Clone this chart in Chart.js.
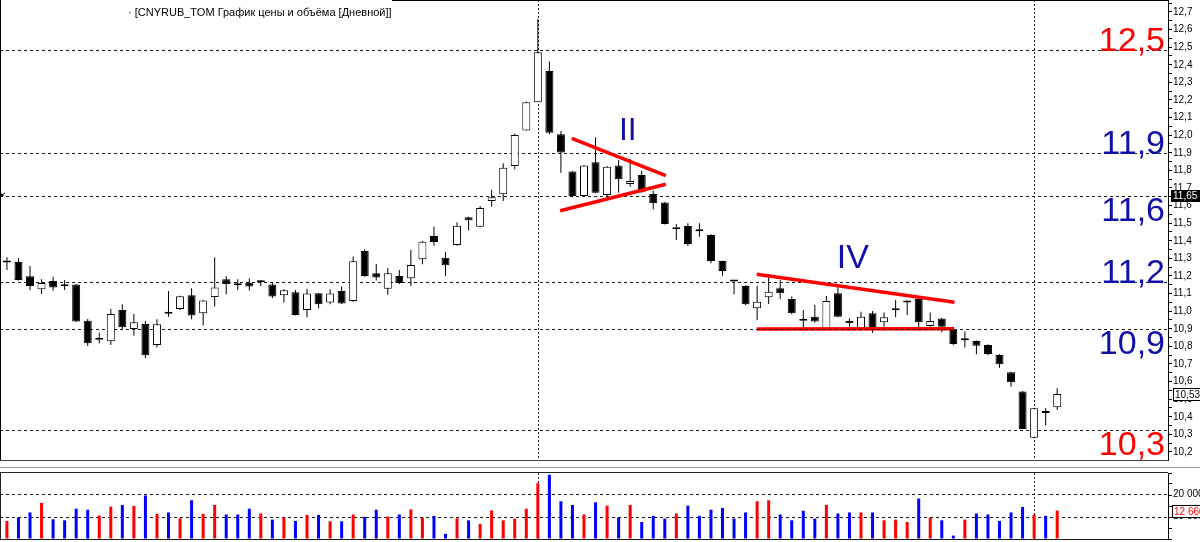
<!DOCTYPE html>
<html lang="ru">
<head>
<meta charset="UTF-8">
<title>CNYRUB_TOM График цены и объёма</title>
<script src="https://cdn.jsdelivr.net/npm/chart.js"></script>
<style>
  html, body { margin: 0; padding: 0; background: #fff; }
  body { width: 1200px; height: 542px; overflow: hidden; position: relative; }
  .pane { position: absolute; left: 0; width: 1200px; }
  #pricePane { top: 0; height: 462px; }
  #sep { position: absolute; left: 0; top: 467px; width: 1200px; height: 1px; background: #a0a0a0; }
  #volPane { top: 470px; height: 72px; }
</style>
</head>
<body>
<div class="pane" id="pricePane"><canvas id="price"></canvas></div>
<div id="sep"></div>
<div class="pane" id="volPane"><canvas id="volume"></canvas></div>
<script>
// daily candles
const opens = [11.276, 11.280, 11.198, 11.124, 11.172, 11.145, 11.151, 10.945, 10.837, 10.829,
  11.007, 10.899, 10.927, 10.808, 10.990, 11.013, 11.090, 10.988, 11.081, 11.181,
  11.153, 11.162, 11.164, 11.151, 11.090, 11.107, 11.007, 11.102, 11.049, 11.115,
  11.058, 11.342, 11.215, 11.128, 11.200, 11.187, 11.295, 11.427, 11.304, 11.376,
  11.533, 11.480, 11.626, 11.664, 11.825, 12.027, 12.187, 12.365, 12.005, 11.793,
  11.654, 11.846, 11.660, 11.827, 11.723, 11.774, 11.666, 11.617, 11.465, 11.484,
  11.457, 11.433, 11.285, 11.172, 11.143, 11.016, 11.079, 11.130, 11.069, 10.952,
  10.969, 10.901, 11.102, 10.944, 10.901, 10.988, 10.937, 11.005, 11.049, 11.069,
  10.916, 10.958, 10.893, 10.835, 10.831, 10.808, 10.751, 10.653, 10.543, 10.281,
  10.425, 10.454];
const highs = [11.306, 11.301, 11.257, 11.181, 11.196, 11.177, 11.155, 10.956, 10.878, 11.013,
  11.039, 10.984, 10.946, 10.954, 11.115, 11.088, 11.130, 11.064, 11.306, 11.200,
  11.181, 11.187, 11.177, 11.162, 11.124, 11.121, 11.128, 11.104, 11.124, 11.140,
  11.310, 11.352, 11.268, 11.246, 11.234, 11.348, 11.399, 11.480, 11.336, 11.505,
  11.537, 11.598, 11.689, 11.840, 12.010, 12.190, 12.660, 12.418, 12.024, 11.796,
  11.830, 11.988, 11.825, 11.859, 11.866, 11.798, 11.685, 11.620, 11.495, 11.499,
  11.499, 11.437, 11.287, 11.174, 11.147, 11.143, 11.211, 11.177, 11.083, 11.007,
  11.035, 11.086, 11.136, 10.960, 10.997, 11.001, 10.992, 11.064, 11.060, 11.083,
  10.992, 10.961, 10.912, 10.884, 10.833, 10.812, 10.755, 10.656, 10.547, 10.452,
  10.448, 10.562];
const lows = [11.234, 11.175, 11.121, 11.098, 11.117, 11.121, 10.939, 10.802, 10.818, 10.808,
  10.897, 10.861, 10.732, 10.793, 10.969, 11.007, 10.954, 10.918, 11.026, 11.096,
  11.121, 11.117, 11.143, 11.073, 11.049, 10.975, 10.965, 11.016, 11.039, 11.041,
  11.054, 11.196, 11.174, 11.094, 11.155, 11.143, 11.266, 11.372, 11.200, 11.372,
  11.458, 11.477, 11.594, 11.626, 11.806, 12.026, 12.187, 12.005, 11.787, 11.647,
  11.651, 11.670, 11.632, 11.673, 11.707, 11.673, 11.579, 11.492, 11.404, 11.370,
  11.423, 11.272, 11.202, 11.096, 11.035, 10.950, 11.041, 11.069, 10.982, 10.888,
  10.935, 10.899, 10.965, 10.912, 10.890, 10.878, 10.912, 10.965, 10.979, 10.889,
  10.912, 10.880, 10.808, 10.793, 10.755, 10.749, 10.679, 10.571, 10.329, 10.278,
  10.350, 10.439];
const closes = [11.280, 11.177, 11.143, 11.160, 11.134, 11.141, 10.941, 10.818, 10.848, 10.984,
  10.909, 10.937, 10.749, 10.926, 10.986, 11.085, 10.975, 11.060, 11.134, 11.155,
  11.147, 11.140, 11.168, 11.083, 11.119, 10.979, 11.100, 11.039, 11.100, 11.043,
  11.283, 11.200, 11.191, 11.215, 11.160, 11.263, 11.395, 11.393, 11.261, 11.486,
  11.516, 11.586, 11.647, 11.815, 12.001, 12.187, 12.471, 12.014, 11.901, 11.654,
  11.827, 11.673, 11.821, 11.749, 11.740, 11.679, 11.613, 11.495, 11.471, 11.382,
  11.454, 11.285, 11.229, 11.168, 11.039, 11.054, 11.111, 11.102, 10.988, 10.946,
  10.941, 11.058, 10.969, 10.931, 10.969, 10.899, 10.965, 11.009, 11.052, 10.937,
  10.944, 10.912, 10.814, 10.838, 10.804, 10.757, 10.698, 10.596, 10.331, 10.448,
  10.422, 10.530];
const volumes = [8030, 9545, 11820, 16060, 8790, 8330, 13490, 13030, 10450, 14390,
  15150, 14700, 19390, 11210, 11820, 9240, 17270, 11210, 15150, 10910,
  10910, 13490, 11360, 8640, 9545, 8030, 10760, 10760, 7880, 7880,
  10910, 9850, 13030, 10000, 10910, 13180, 9545, 10300, 2270, 9240,
  8330, 6670, 12730, 8330, 9090, 13490, 24850, 28640, 16820, 15150,
  10910, 16360, 14850, 9545, 15150, 7580, 10300, 9090, 11360, 14850,
  10300, 13030, 13790, 9090, 11820, 16820, 17270, 10910, 8330, 12580,
  9090, 15150, 11360, 11820, 11820, 11820, 8330, 8640, 7580, 18030,
  9545, 8330, 1520, 8640, 11360, 10910, 8030, 11820, 14240, 10910,
  10300, 12660];

// horizontal levels and their captions
const levels = [12.485, 11.9, 11.655, 11.165, 10.9, 10.325];
const levelLabels = ['12,5', '11,9', '11,6', '11,2', '10,9', '10,3'];
const levelBelow = [false, false, true, false, true, true];
const levelRed = [true, false, false, false, false, true];
const volLevels = [20000, 10000];
const volTickLabels = ['20 000', '10 000'];
// vertical markers (candle index)
const markers = [46, 89];

// pattern trend lines
const trIIup = [{x: 48.94, y: 11.982}, {x: 57.09, y: 11.770}];
const trIIlow = [{x: 47.93, y: 11.571}, {x: 57.09, y: 11.721}];
const trIVup = [{x: 64.97, y: 11.210}, {x: 82.1, y: 11.051}];
const trIVlow = [{x: 64.97, y: 10.899}, {x: 82.0, y: 10.900}];

const idx = opens.map((_, i) => i);
const isUp = i => closes[i] >= opens[i];
const isDoji = i => Math.abs(closes[i] - opens[i]) < 0.008;
const fmt = v => v.toFixed(1).replace('.', ',');
const last = closes.length - 1;

const FONT = "'Liberation Sans', Arial, sans-serif";
const BLUE = '#1010a8';
const RED = '#ff0000';

Chart.defaults.font.family = FONT;
Chart.defaults.color = '#000';

function hline(ctx, x1, x2, y) {
  ctx.beginPath(); ctx.moveTo(x1, y); ctx.lineTo(x2, y); ctx.stroke();
}
function vline(ctx, x, y1, y2) {
  ctx.beginPath(); ctx.moveTo(x, y1); ctx.lineTo(x, y2); ctx.stroke();
}

const xScale = {
  type: 'linear', min: -0.6, max: 100.6, display: false, offset: false
};

const pricePlugin = {
  id: 'priceDecor',
  beforeDatasetsDraw(chart) {
    const {ctx, chartArea: a, scales: {x, y}} = chart;
    ctx.save();
    ctx.strokeStyle = '#1a1a1a';
    ctx.lineWidth = 1;
    ctx.setLineDash([3, 3]);
    levels.forEach(v => hline(ctx, a.left, a.right, Math.round(y.getPixelForValue(v)) + 0.5));
    ctx.setLineDash([2, 2]);
    markers.forEach(i => vline(ctx, Math.round(x.getPixelForValue(i)) + 0.5, a.top, a.bottom));
    ctx.restore();
  },
  afterDatasetDraw(chart, args) {
    // grid dashes show through the flat IV support line
    if (chart.data.datasets[args.index].label !== 'IV low') return;
    const {ctx, scales: {x, y}} = chart;
    ctx.save();
    ctx.strokeStyle = '#1a1a1a';
    ctx.lineWidth = 1;
    ctx.setLineDash([3, 3]);
    const py = Math.round(y.getPixelForValue(10.9)) + 0.5;
    hline(ctx, x.getPixelForValue(trIVlow[0].x), x.getPixelForValue(trIVlow[1].x), py);
    ctx.restore();
  },
  afterDraw(chart) {
    const {ctx, chartArea: a, scales: {x, y}} = chart;
    ctx.save();
    // frame
    ctx.strokeStyle = '#000';
    ctx.lineWidth = 1;
    vline(ctx, a.left + 0.5, a.top, a.bottom);
    hline(ctx, 392, a.right, a.top + 0.5);
    ctx.strokeStyle = '#444';
    hline(ctx, a.left, a.right, a.bottom + 0.5);

    // title
    ctx.fillStyle = '#000';
    ctx.font = '11px ' + FONT;
    ctx.textBaseline = 'middle';
    ctx.textAlign = 'left';
    ctx.fillText('· [CNYRUB_TOM График цены и объёма [Дневной]]', 128, 13);

    // left edge arrow
    ctx.strokeStyle = '#000';
    const ay = Math.round(y.getPixelForValue(11.655));
    ctx.beginPath();
    ctx.moveTo(1, ay); ctx.lineTo(5, ay - 3); ctx.stroke();
    ctx.beginPath();
    ctx.moveTo(1, ay); ctx.lineTo(4, ay); ctx.lineTo(1, ay - 3); ctx.closePath(); ctx.fill();

    // level captions
    ctx.font = '34px ' + FONT;
    ctx.textAlign = 'right';
    ctx.textBaseline = 'alphabetic';
    levels.forEach((v, i) => {
      const py = y.getPixelForValue(v);
      ctx.fillStyle = levelRed[i] ? RED : BLUE;
      ctx.fillText(levelLabels[i], 1165, levelBelow[i] ? py + 25 : py + 1);
    });

    // pattern names
    ctx.fillStyle = BLUE;
    ctx.textAlign = 'center';
    ctx.font = '32px ' + FONT;
    ctx.fillText('II', x.getPixelForValue(53.8), y.getPixelForValue(11.975));
    ctx.font = '34px ' + FONT;
    ctx.fillText('IV', x.getPixelForValue(73.3), y.getPixelForValue(11.245));

    // price boxes on the axis
    ctx.font = '10px ' + FONT;
    ctx.textAlign = 'left';
    ctx.textBaseline = 'middle';
    let py = Math.round(y.getPixelForValue(11.655));
    ctx.fillStyle = '#000';
    ctx.fillRect(a.right + 3, py - 6, 40, 12);
    ctx.fillStyle = '#fff';
    ctx.fillText('11,65', a.right + 5, py);

    py = Math.round(y.getPixelForValue(closes[last]));
    ctx.fillStyle = '#fff';
    ctx.fillRect(a.right + 5, py - 6, 40, 13);
    ctx.strokeStyle = '#000';
    ctx.strokeRect(a.right + 5.5, py - 5.5, 40, 12);
    ctx.fillStyle = '#000';
    ctx.fillText(closes[last].toFixed(2).replace('.', ','), a.right + 7, py + 1);
    ctx.restore();
  }
};

const trendLine = (label, data) => ({
  type: 'line', label, data, order: 0,
  borderColor: RED, borderWidth: 3.5, pointRadius: 0, fill: false
});

new Chart(document.getElementById('price'), {
  type: 'bar',
  data: {
    datasets: [
      {
        label: 'wick',
        data: idx.map(i => ({x: i, y: [lows[i], highs[i]]})),
        backgroundColor: '#000', borderWidth: 0,
        barThickness: 1, grouped: false, inflateAmount: 0, order: 3
      },
      {
        label: 'body',
        data: idx.map(i => ({x: i, y: [opens[i], closes[i]]})),
        backgroundColor: c => (isUp(c.dataIndex) && !isDoji(c.dataIndex)) ? '#fff' : '#000',
        borderColor: '#000', borderWidth: 1, borderSkipped: false,
        barThickness: 8, minBarLength: 2, grouped: false, inflateAmount: 0, order: 2
      },
      trendLine('II up', trIIup),
      trendLine('II low', trIIlow),
      trendLine('IV up', trIVup),
      trendLine('IV low', trIVlow)
    ]
  },
  options: {
    responsive: true,
    maintainAspectRatio: false,
    animation: false,
    events: [],
    layout: {padding: {left: 0, right: 0, top: 0, bottom: 2}},
    plugins: {legend: {display: false}, tooltip: {enabled: false}},
    scales: {
      x: xScale,
      y: {
        position: 'right',
        min: 10.1545, max: 12.768,
        afterFit(s) { s.width = 32; s.paddingTop = 0; s.paddingBottom = 0; },
        border: {display: true, color: '#000', width: 1},
        grid: {drawOnChartArea: false, drawTicks: true, tickLength: 4, tickColor: '#000'},
        ticks: {
          stepSize: 0.05, autoSkip: false, includeBounds: false, padding: 1,
          font: {size: 10}, color: '#000',
          callback: v => Math.round(v * 20) % 2 === 0 ? fmt(v) : ''
        }
      }
    }
  },
  plugins: [pricePlugin]
});

const volPlugin = {
  id: 'volDecor',
  beforeDatasetsDraw(chart) {
    const {ctx, chartArea: a, scales: {x, y}} = chart;
    ctx.save();
    ctx.strokeStyle = '#1a1a1a';
    ctx.lineWidth = 1;
    ctx.setLineDash([3, 3]);
    volLevels.forEach(v => hline(ctx, a.left, a.right, Math.round(y.getPixelForValue(v)) + 0.5));
    ctx.setLineDash([2, 2]);
    markers.forEach(i => vline(ctx, Math.round(x.getPixelForValue(i)) + 0.5, a.top, a.bottom));
    ctx.restore();
  },
  afterDraw(chart) {
    const {ctx, chartArea: a, scales: {y}} = chart;
    ctx.save();
    ctx.strokeStyle = '#222';
    ctx.lineWidth = 1;
    vline(ctx, a.left + 0.5, a.top, a.bottom);
    hline(ctx, a.left, a.right, a.top - 0.5);
    hline(ctx, a.left, a.right, a.bottom + 0.5);

    // axis captions for the volume levels
    ctx.fillStyle = '#000';
    ctx.font = '10px ' + FONT;
    ctx.textAlign = 'left';
    ctx.textBaseline = 'middle';
    volLevels.forEach((v, i) => ctx.fillText(volTickLabels[i], a.right + 5, y.getPixelForValue(v)));

    const py = Math.round(y.getPixelForValue(volumes[last]));
    ctx.fillStyle = '#fff';
    ctx.fillRect(a.right + 4, py - 6, 40, 13);
    ctx.strokeStyle = '#000';
    ctx.strokeRect(a.right + 4.5, py - 5.5, 40, 12);
    ctx.fillStyle = RED;
    ctx.fillText('12 660', a.right + 6, py + 1);
    ctx.restore();
  }
};

new Chart(document.getElementById('volume'), {
  type: 'bar',
  data: {
    datasets: [{
      label: 'volume',
      data: idx.map(i => ({x: i, y: volumes[i]})),
      backgroundColor: c => isUp(c.dataIndex) ? '#ff0000' : '#0000ff',
      borderWidth: 0, barThickness: 3, inflateAmount: 0
    }]
  },
  options: {
    responsive: true,
    maintainAspectRatio: false,
    animation: false,
    events: [],
    layout: {padding: {left: 0, right: 0, top: 3, bottom: 3}},
    plugins: {legend: {display: false}, tooltip: {enabled: false}},
    scales: {
      x: xScale,
      y: {
        position: 'right',
        min: 0, max: 29400,
        afterFit(s) { s.width = 32; s.paddingTop = 0; s.paddingBottom = 0; },
        border: {display: true, color: '#000', width: 1},
        grid: {drawOnChartArea: false, drawTicks: true, tickLength: 4, tickColor: '#000'},
        ticks: {stepSize: 5000, autoSkip: false, includeBounds: false, display: false}
      }
    }
  },
  plugins: [volPlugin]
});
</script>
</body>
</html>
